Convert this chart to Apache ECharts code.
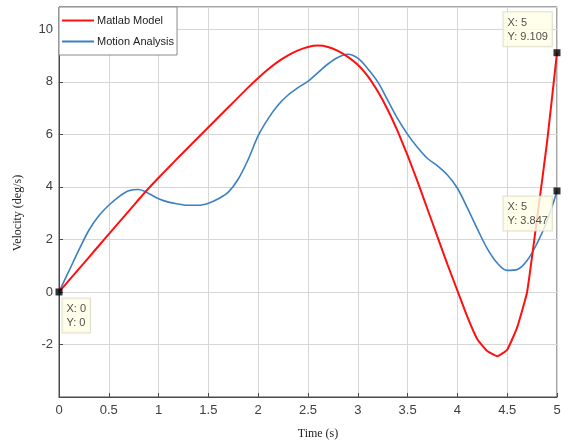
<!DOCTYPE html>
<html>
<head>
<meta charset="utf-8">
<script src="https://cdn.jsdelivr.net/npm/echarts@6/dist/echarts.min.js"></script>
<style>
html,body{margin:0;padding:0;background:#fff;}
#chart{width:568px;height:445px;}
</style>
</head>
<body>
<div id="chart"></div>
<script>
// Time samples (s)
var timeS = [0,0.1,0.2,0.3,0.4,0.5,0.6,0.7,0.8,0.9,1.0,1.1,1.2,1.3,1.4,1.5,1.6,1.7,1.8,1.9,2.0,
  2.1,2.2,2.3,2.4,2.5,2.6,2.7,2.8,2.9,3.0,3.1,3.2,3.3,3.4,3.5,3.6,3.7,3.8,3.9,4.0,
  4.1,4.2,4.3,4.4,4.5,4.6,4.7,4.8,4.9,5.0];
// Matlab Model velocity (deg/s)
var matlabModel = [0,0.44,0.88,1.32,1.76,2.2,2.64,3.08,3.52,3.95,4.35,4.74,5.13,5.51,5.89,6.27,6.65,7.03,7.41,7.79,8.15,
  8.48,8.77,9.01,9.2,9.33,9.38,9.33,9.18,8.95,8.65,8.22,7.64,6.94,6.12,5.2,4.2,3.15,2.1,1.05,0.05,
  -0.95,-1.8,-2.25,-2.45,-2.2,-1.35,0.0,2.8,5.7,9.109];
// Motion Analysis velocity (deg/s)
var motionAnalysis = [0,0.8,1.6,2.35,2.9,3.3,3.62,3.85,3.9,3.75,3.55,3.42,3.35,3.3,3.3,3.38,3.55,3.8,4.3,5.05,5.95,
  6.6,7.12,7.5,7.78,8.02,8.35,8.68,8.93,9.05,8.9,8.5,8.0,7.3,6.6,6.0,5.5,5.08,4.8,4.45,3.95,
  3.2,2.4,1.65,1.1,0.82,0.85,1.2,1.85,2.7,3.847];
var xTicks = {min:0, max:5, interval:0.5};
var yTicks = {min:-4, max:10.85, interval:2};

var last = timeS.length - 1;
var tips = [
  [timeS[0], matlabModel[0]],
  [timeS[last], matlabModel[last]],
  [timeS[last], motionAnalysis[last]]
];
var tipOffsets = [[7,10],[-50,-37],[-50,9]];

function pairs(ys){ return timeS.map(function(t,i){ return [t, ys[i]]; }); }

var chart = echarts.init(document.getElementById('chart'), null, {renderer:'canvas'});
var labelFont = 'Liberation Sans, Arial, Helvetica, sans-serif';
var tipLabel = function(pos){
  return {
    show: true,
    position: pos,
    formatter: function(p){ return 'X: ' + p.value[0] + '\nY: ' + p.value[1]; },
    fontFamily: labelFont,
    fontSize: 11,
    lineHeight: 13.5,
    color: '#222',
    backgroundColor: '#ffffe6',
    borderColor: '#d8d8c6',
    borderWidth: 1,
    padding: [4, 4, 3, 4]
  };
};

chart.setOption({
  animation: false,
  backgroundColor: '#fff',
  grid: {left: 59, right: 11, top: 7, bottom: 46, show: true, borderColor: '#4a4a4a', borderWidth: 1, containLabel: false},
  legend: {
    data: ['Matlab Model', 'Motion Analysis'],
    orient: 'vertical',
    left: 59, top: 7,
    padding: [8, 3, 8, 3],
    itemGap: 10,
    itemWidth: 32,
    itemHeight: 2,
    icon: 'rect',
    backgroundColor: '#fff',
    borderColor: '#8a8a8a',
    borderWidth: 1,
    textStyle: {fontFamily: labelFont, fontSize: 11, color: '#222', padding: [0,0,0,-2]}
  },
  xAxis: {
    type: 'value',
    min: xTicks.min, max: xTicks.max, interval: xTicks.interval,
    name: 'Time (s)',
    nameLocation: 'middle',
    nameGap: 31,
    nameTextStyle: {fontFamily: 'Liberation Serif, Times New Roman, serif', fontSize: 12, color: '#222', padding: [0,0,0,20]},
    axisLine: {show: true, onZero: false, lineStyle: {color: '#4a4a4a', width: 1}},
    axisTick: {show: true, inside: true, length: 4, lineStyle: {color: '#4a4a4a'}},
    axisLabel: {fontFamily: labelFont, fontSize: 13, color: '#404040', margin: 7},
    splitLine: {show: true, lineStyle: {color: '#d6d6d6', width: 1}}
  },
  yAxis: {
    type: 'value',
    min: yTicks.min, max: yTicks.max, interval: yTicks.interval,
    name: 'Velocity (deg/s)',
    nameLocation: 'middle',
    nameGap: 35,
    nameTextStyle: {fontFamily: 'Liberation Serif, Times New Roman, serif', fontSize: 12, color: '#222', padding: [0,22,0,0]},
    axisLine: {show: true, onZero: false, lineStyle: {color: '#4a4a4a', width: 1}},
    axisTick: {show: true, inside: true, length: 4, lineStyle: {color: '#4a4a4a'}},
    axisLabel: {fontFamily: labelFont, fontSize: 13, color: '#404040', margin: 6, showMinLabel: false, showMaxLabel: false},
    splitLine: {show: true, lineStyle: {color: '#d6d6d6', width: 1}}
  },
  series: [
    {
      name: 'Motion Analysis',
      type: 'line',
      data: pairs(motionAnalysis),
      smooth: 0.35,
      showSymbol: false,
      symbol: 'none',
      lineStyle: {color: '#3a80c2', width: 1.6},
      itemStyle: {color: '#3a80c2'},
      z: 2
    },
    {
      name: 'Matlab Model',
      type: 'line',
      data: pairs(matlabModel),
      smooth: 0.12,
      showSymbol: false,
      symbol: 'none',
      lineStyle: {color: '#ff1010', width: 2},
      itemStyle: {color: '#ff1010'},
      z: 3
    },
    {
      name: 'tips',
      type: 'scatter',
      symbol: 'rect',
      symbolSize: 7,
      itemStyle: {color: '#000'},
      z: 5,
      clip: false,
      data: tips.map(function(p, i){
        return {value: p, label: tipLabel(tipOffsets[i])};
      })
    }
  ]
});
</script>
</body>
</html>
